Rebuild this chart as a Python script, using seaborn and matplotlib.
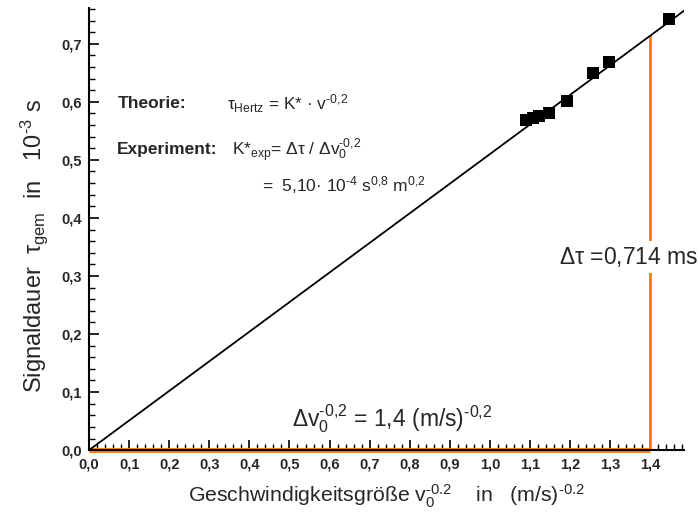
import numpy as np
import pandas as pd
import matplotlib
matplotlib.use("Agg")
import matplotlib.pyplot as plt
from matplotlib.ticker import MultipleLocator, FuncFormatter
import seaborn as sns

# data
v_inv = [1.090, 1.107, 1.123, 1.148, 1.192, 1.256, 1.298, 1.447]
tau = [0.569, 0.572, 0.575, 0.580, 0.602, 0.649, 0.669, 0.743]
delta_v = 1.4
delta_tau = 0.714
fit_x = [0.0, 1.485]

sns.set_theme(style="white")
plt.rcParams['font.family'] = ['Liberation Sans', 'DejaVu Sans']
plt.rcParams['mathtext.fontset'] = 'custom'
plt.rcParams['mathtext.rm'] = 'Liberation Sans'
plt.rcParams['mathtext.it'] = 'Liberation Sans'
plt.rcParams['mathtext.bf'] = 'Liberation Sans:bold'
plt.rcParams['mathtext.sf'] = 'Liberation Sans'

fig = plt.figure(figsize=(6.98, 5.18), dpi=100)
ax = fig.add_axes([0.1275, 0.131, 0.853, 0.854])

K = delta_tau / delta_v
df_fit = pd.DataFrame({"x": fit_x, "y": [K * x for x in fit_x]})
df = pd.DataFrame({"x": v_inv, "y": tau})

orange = "#FF7F00"
ax.plot([0, delta_v], [0, 0], color=orange, lw=3.5, zorder=1, clip_on=False,
        solid_capstyle='butt')
ax.plot([delta_v, delta_v], [0, K * delta_v], color=orange, lw=2, zorder=1)

sns.lineplot(data=df_fit, x="x", y="y", ax=ax, color="black", lw=1.3, zorder=3)
sns.scatterplot(data=df, x="x", y="y", ax=ax, marker="s", s=70, color="black",
                edgecolor="black", linewidth=0, zorder=4)

ax.set_xlim(0, 1.485)
ax.set_ylim(0, 0.762)
ax.xaxis.set_major_locator(MultipleLocator(0.1))
ax.xaxis.set_minor_locator(MultipleLocator(0.02))
ax.yaxis.set_major_locator(MultipleLocator(0.1))
ax.yaxis.set_minor_locator(MultipleLocator(0.02))
fmt = FuncFormatter(lambda v, p: f"{v:.1f}".replace(".", ","))
ax.xaxis.set_major_formatter(fmt)
ax.yaxis.set_major_formatter(fmt)
ax.tick_params(which='both', direction='in', color='black', bottom=True, left=True)
ax.tick_params(which='major', length=7, width=1.2, labelsize=10.5, pad=5)
ax.tick_params(which='minor', length=4, width=1.0)
for lab in ax.get_xticklabels() + ax.get_yticklabels():
    lab.set_fontweight('bold')

for s in ['top', 'right']:
    ax.spines[s].set_visible(False)
for s in ['left', 'bottom']:
    ax.spines[s].set_color('black')
    ax.spines[s].set_linewidth(1.5)

ax.set_xlabel(r"Geschwindigkeitsgröße v$_0^{\text{-0.2}}$    in   (m/s)$^{\text{-0.2}}$",
              fontsize=15.3, labelpad=8)
ax.set_ylabel(r"Signaldauer  $\tau_{\mathrm{gem}}$  in   10$^{\text{-3}}$ s",
              fontsize=17)
ax.yaxis.set_label_coords(-0.066, 0.462)

tf = ax.transAxes
fs = 12.5
ax.text(0.048, 0.783, "Theorie:", transform=tf, fontsize=fs, fontweight='bold', va='center')
ax.text(0.232, 0.783, r"$\tau_{\mathrm{Hertz}}$ = K* · v$^{\text{-0,2}}$", transform=tf, fontsize=fs, va='center')
ax.text(0.046, 0.679, "Experiment:", transform=tf, fontsize=fs, fontweight='bold', va='center')
ax.text(0.24, 0.679, r"K*$_{\mathrm{exp}}$= $\Delta\tau$ / $\Delta$v$_0^{\text{-0,2}}$", transform=tf, fontsize=fs, va='center')
ax.text(0.29, 0.60, r"=  5,10· 10$^{\text{-4}}$ s$^{\text{0,8}}$ m$^{\text{0,2}}$", transform=tf, fontsize=fs, va='center')

ax.text(1.173, 0.333, r"$\Delta\tau$ =0,714 ms", fontsize=16.5, va='center',
        bbox=dict(facecolor='white', edgecolor='none', pad=3), zorder=2, clip_on=False)
ax.text(0.507, 0.055, r"$\Delta$v$_0^{\text{-0,2}}$ = 1,4 (m/s)$^{\text{-0,2}}$", fontsize=16.5, va='center')

fig.savefig("out.png", dpi=100)
